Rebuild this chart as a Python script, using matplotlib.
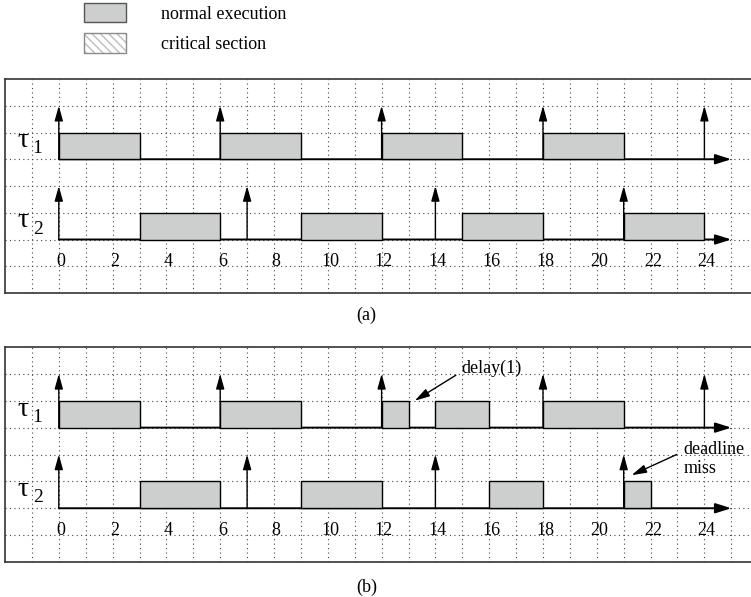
import matplotlib
matplotlib.use('Agg')
import matplotlib.pyplot as plt
from matplotlib.patches import Patch
from matplotlib.legend_handler import HandlerTuple

plt.rcParams['font.family'] = ['Liberation Serif', 'DejaVu Serif']

# ---------------- data ----------------
tick_values = [0, 2, 4, 6, 8, 10, 12, 14, 16, 18, 20, 22, 24]
tau1_release = [0, 6, 12, 18, 24]
tau2_release = [0, 7, 14, 21]
a_tau1_start = [0, 6, 12, 18]
a_tau1_end = [3, 9, 15, 21]
a_tau2_start = [3, 9, 15, 21]
a_tau2_end = [6, 12, 18, 24]
b_tau1_start = [0, 6, 12, 14, 18]
b_tau1_end = [3, 9, 13, 16, 21]
b_tau2_start = [3, 9, 16, 21]
b_tau2_end = [6, 12, 18, 22]
timeline_end = 25
task_subscripts = ['1', '2']
legend_labels = ['normal execution', 'critical section']
panel_labels = ['(a)', '(b)']

# ---------------- layout ----------------
W, H = 751, 597
fig = plt.figure(figsize=(W / 100, H / 100), dpi=100)

UNIT_X = 26.9
X0, X1 = -2.0, 26.6
FILL = '#cdcfcf'
GRID = '#444444'
FRAME = '#333333'


def make_ax(top_px, bot_px, ytop):
    w = (X1 - X0) * UNIT_X
    ax = fig.add_axes([5 / W, 1 - bot_px / H, w / W, (bot_px - top_px) / H])
    ax.set_xlim(X0, X1)
    ax.set_ylim(0, ytop)
    ax.set_xticks([])
    ax.set_yticks([])
    ax.spines['right'].set_visible(False)
    for s in ['left', 'top', 'bottom']:
        ax.spines[s].set_color(FRAME)
        ax.spines[s].set_linewidth(1.2)
    return ax


def draw_panel(ax, t1s, t1e, t2s, t2e):
    for x in range(-1, 27):
        ax.axvline(x, color=GRID, lw=0.8, ls=(0, (1, 3)), zorder=0)
    for y in range(1, 8):
        ax.axhline(y, color=GRID, lw=0.8, ls=(0, (1, 3)), zorder=0)
    rows = [(5, t1s, t1e, tau1_release, task_subscripts[0]),
            (2, t2s, t2e, tau2_release, task_subscripts[1])]
    for base, starts, ends, rel, sub in rows:
        ax.annotate('', xy=(timeline_end, base), xytext=(0, base),
                    arrowprops=dict(arrowstyle='-|>,head_length=0.95,head_width=0.3',
                                    color='black', lw=1.4, shrinkA=0, shrinkB=0),
                    zorder=2)
        ax.broken_barh([(s, e - s) for s, e in zip(starts, ends)], (base, 1),
                       facecolors=FILL, edgecolors='black', linewidth=1.0, zorder=3)
        for r in rel:
            ax.annotate('', xy=(r, base + 2), xytext=(r, base),
                        arrowprops=dict(arrowstyle='-|>,head_length=0.9,head_width=0.25',
                                        color='black', lw=1.0, shrinkA=0, shrinkB=0),
                        zorder=4)
        ax.text(-1.55, base + 0.45, '\u03c4', fontsize=20, ha='left', va='baseline')
        ax.text(-0.97, base + 0.22, sub, fontsize=14, ha='left', va='baseline')
    for t in tick_values:
        ax.text(t + 0.08, 1.0, str(t), ha='center', va='baseline', fontsize=13)


ax_a = make_ax(79, 293, 8)
draw_panel(ax_a, a_tau1_start, a_tau1_end, a_tau2_start, a_tau2_end)

ax_b = make_ax(347, 562, 8)
draw_panel(ax_b, b_tau1_start, b_tau1_end, b_tau2_start, b_tau2_end)

ann = dict(arrowstyle='-|>,head_length=0.9,head_width=0.25', color='black',
           lw=1.0, shrinkA=0, shrinkB=0)
ax_b.annotate('', xy=(13.23, 6.0), xytext=(14.76, 6.95), arrowprops=ann)
ax_b.text(14.96, 7.02, 'delay(1)', fontsize=13, ha='left', va='baseline')
ax_b.annotate('', xy=(21.29, 3.23), xytext=(22.97, 4.0), arrowprops=ann)
ax_b.text(23.23, 4.02, 'deadline', fontsize=13, ha='left', va='baseline')
ax_b.text(23.23, 3.33, 'miss', fontsize=13, ha='left', va='baseline')

fig.text(366.7 / W, 1 - 315 / H, panel_labels[0], ha='center', va='center', fontsize=13)
fig.text(366.7 / W, 1 - 587 / H, panel_labels[1], ha='center', va='center', fontsize=13)

# legend
h_normal = Patch(facecolor=FILL, edgecolor='#555555', linewidth=1.0)
h_crit = (Patch(facecolor='white', edgecolor='#bdbdbd', hatch='\\\\\\\\', linewidth=0),
          Patch(facecolor='none', edgecolor='#8a8a8a', linewidth=1.0))
fig.legend([h_normal, h_crit], legend_labels,
           handler_map={tuple: HandlerTuple(ndivide=1, pad=0)},
           loc='upper left', bbox_to_anchor=(84 / W, 1 - 3 / H),
           frameon=False, fontsize=13, handlelength=2.35, handleheight=1.25,
           handletextpad=1.9, labelspacing=0.6, borderpad=0, borderaxespad=0)

fig.savefig('out.png', dpi=100)
